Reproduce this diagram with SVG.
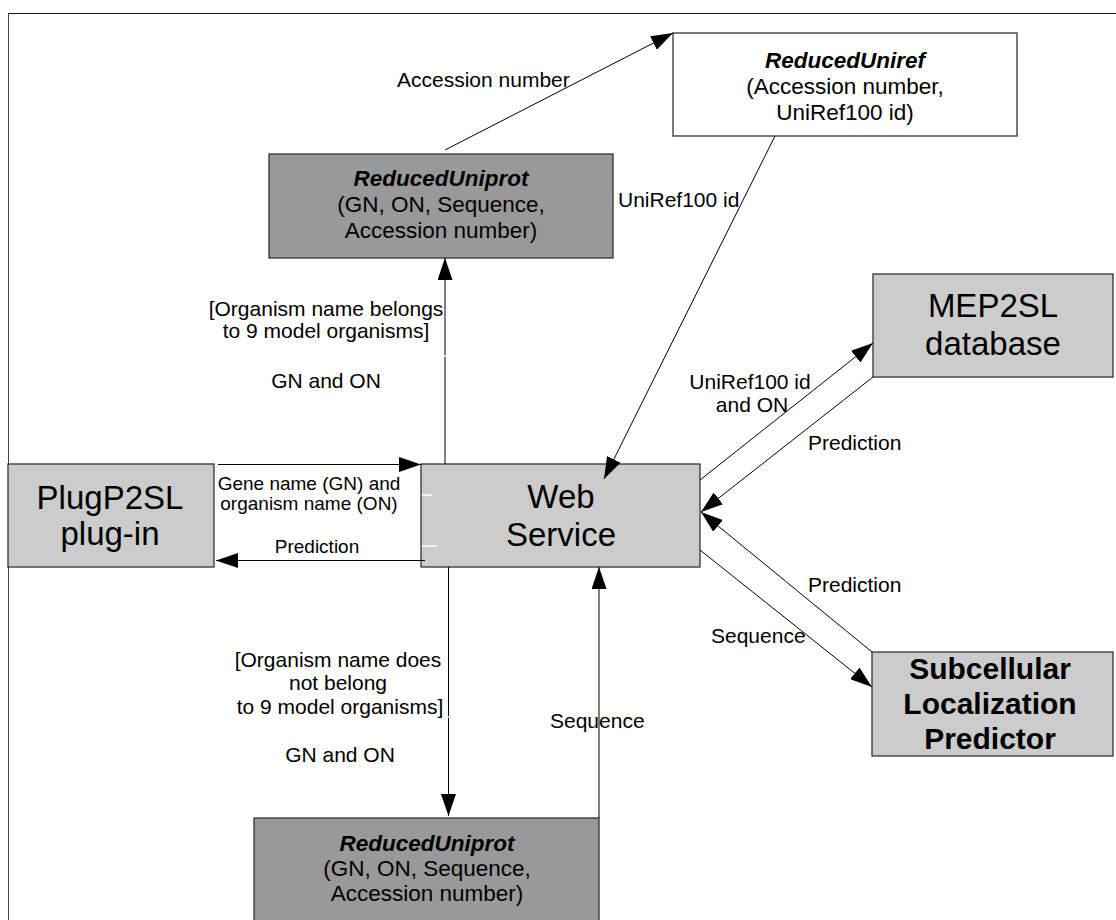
<svg xmlns="http://www.w3.org/2000/svg" width="1116" height="920" viewBox="0 0 1116 920">
<style>
  text { font-family: "Liberation Sans", Arial, sans-serif; fill: #000; }
  .node { stroke: #333; stroke-width: 1.3; }
  .dark { fill: #999999; }
  .light { fill: #cccccc; }
  .white { fill: #ffffff; }
  .big { font-size: 33px; text-anchor: middle; }
  .mid { font-size: 22.5px; text-anchor: middle; }
  .bi { font-weight: bold; font-style: italic; }
  .bold { font-weight: bold; font-size: 30px; text-anchor: middle; }
  .lbl { font-size: 21px; }
  .lblc { font-size: 21px; text-anchor: middle; }
  .sm { font-size: 19px; text-anchor: middle; }
  .edge { stroke: #000; stroke-width: 1; fill: none; marker-end: url(#arr); }
  .tick { stroke: #fff; stroke-width: 1.5; }
</style>
<defs>
  <marker id="arr" markerUnits="userSpaceOnUse" viewBox="0 0 22 15" refX="22" refY="7.5" markerWidth="22" markerHeight="15" orient="auto">
    <path d="M0,0 L22,7.5 L0,15 z" fill="#000"/>
  </marker>
</defs>
<rect width="1116" height="920" fill="#fff"/>
<g id="frame">
  <line x1="8" y1="13.5" x2="1116" y2="13.5" stroke="#111" stroke-width="1"/>
  <line x1="8.5" y1="13" x2="8.5" y2="920" stroke="#444" stroke-width="1"/>
</g>
<g id="n-reduceduniref">
  <rect class="node white" x="673" y="33" width="344" height="103"/>
  <text class="mid bi" x="845" y="68">ReducedUniref</text>
  <text class="mid" x="845" y="94">(Accession number,</text>
  <text class="mid" x="845" y="120">UniRef100 id)</text>
</g>
<g id="n-reduceduniprot-top">
  <rect class="node dark" x="269" y="154" width="344" height="104"/>
  <text class="mid bi" x="441" y="186">ReducedUniprot</text>
  <text class="mid" x="441" y="212">(GN, ON, Sequence,</text>
  <text class="mid" x="441" y="238">Accession number)</text>
</g>
<g id="n-plugin">
  <rect class="node light" x="8" y="464" width="206" height="103"/>
  <text class="big" x="110" y="509">PlugP2SL</text>
  <text class="big" x="110" y="545">plug-in</text>
</g>
<g id="n-webservice">
  <rect class="node light" x="421" y="464" width="279" height="103"/>
  <text class="big" x="561" y="508">Web</text>
  <text class="big" x="561" y="546">Service</text>
</g>
<g id="n-mep2sl">
  <rect class="node light" x="873" y="274" width="240" height="103"/>
  <text class="big" x="993" y="317">MEP2SL</text>
  <text class="big" x="993" y="355">database</text>
</g>
<g id="n-predictor">
  <rect class="node light" x="872" y="652" width="241" height="104"/>
  <text class="bold" x="990" y="679">Subcellular</text>
  <text class="bold" x="990" y="714">Localization</text>
  <text class="bold" x="990" y="749">Predictor</text>
</g>
<g id="n-reduceduniprot-bottom">
  <rect class="node dark" x="254" y="818" width="345" height="110"/>
  <text class="mid bi" x="427" y="851">ReducedUniprot</text>
  <text class="mid" x="427" y="876">(GN, ON, Sequence,</text>
  <text class="mid" x="427" y="901">Accession number)</text>
</g>
<g id="connectors">
  <line class="edge" x1="445" y1="150" x2="673" y2="33"/>
  <line class="edge" x1="775" y1="136" x2="604" y2="479"/>
  <line class="edge" x1="445" y1="464" x2="445" y2="258"/>
  <line class="edge" x1="218" y1="464.5" x2="421" y2="464.5"/>
  <line class="edge" x1="425" y1="560.5" x2="216" y2="560.5"/>
  <line class="edge" x1="448.5" y1="567" x2="448.5" y2="816"/>
  <line class="edge" x1="599" y1="818" x2="599" y2="567"/>
  <line class="edge" x1="700" y1="480" x2="873" y2="343"/>
  <line class="edge" x1="873" y1="377" x2="701" y2="512"/>
  <line class="edge" x1="872" y1="652" x2="701" y2="512"/>
  <line class="edge" x1="700" y1="550" x2="872" y2="687"/>
  <line class="tick" x1="422" y1="495" x2="432" y2="495"/>
  <line class="tick" x1="422" y1="546" x2="437" y2="546"/>
  <line class="tick" x1="443" y1="356" x2="447" y2="356"/>
  <line class="tick" x1="446" y1="717" x2="451" y2="717"/>
</g>
<g id="labels">
  <text class="lbl" x="397" y="87">Accession number</text>
  <text class="lbl" x="618" y="207">UniRef100 id</text>
  <text class="lblc" x="326" y="316">[Organism name belongs</text>
  <text class="lblc" x="326" y="338">to 9 model organisms]</text>
  <text class="lblc" x="326" y="388">GN and ON</text>
  <text class="sm" x="309" y="490">Gene name (GN) and</text>
  <text class="sm" x="309" y="510">organism name (ON)</text>
  <text class="sm" x="317" y="553">Prediction</text>
  <text class="lblc" x="750" y="389">UniRef100 id</text>
  <text class="lblc" x="752" y="412">and ON</text>
  <text class="lbl" x="808" y="450">Prediction</text>
  <text class="lbl" x="808" y="592">Prediction</text>
  <text class="lbl" x="711" y="643">Sequence</text>
  <text class="lblc" x="338" y="667">[Organism name does</text>
  <text class="lblc" x="338" y="690">not belong</text>
  <text class="lblc" x="340" y="714"> to 9 model organisms]</text>
  <text class="lblc" x="340" y="762">GN and ON</text>
  <text class="lbl" x="550" y="728">Sequence</text>
</g>
</svg>
